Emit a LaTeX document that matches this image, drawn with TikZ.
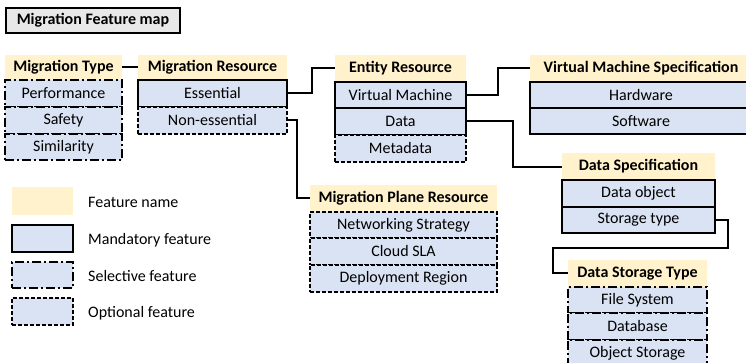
\documentclass[tikz,border=0pt]{standalone}
\usepackage{fontspec}
\setmainfont{Carlito}
\definecolor{hdrcol}{HTML}{FFF2CC}
\definecolor{rowcol}{HTML}{DAE3F3}
\definecolor{titlecol}{HTML}{E8E8E8}
\begin{document}
\begin{tikzpicture}[x=1pt,y=-1pt,
  base/.style={anchor=north west, inner sep=0pt, outer sep=0pt, font=\fontsize{16}{18}\selectfont},
  hdr/.style={base, fill=hdrcol, font=\fontsize{16}{18}\selectfont\bfseries},
  mand/.style={base, fill=rowcol, draw=black, line width=1.6pt},
  sel/.style={base, fill=rowcol, draw=black, line width=1.6pt, dash pattern=on 9pt off 3pt on 2pt off 3pt},
  opt/.style={base, fill=rowcol, draw=black, line width=1.6pt, dash pattern=on 4pt off 2pt},
  conn/.style={draw=black, line width=2pt},
  lbl/.style={anchor=west, inner sep=0pt, font=\fontsize{16}{18}\selectfont}]
\useasboundingbox (0,0) rectangle (746,363);
\begin{scope}
\clip (0,0) rectangle (746,363);
% title
\node[base, fill=titlecol, draw=black, line width=1.3pt, minimum width=174pt, minimum height=25pt, font=\fontsize{16}{18}\selectfont\bfseries] (title) at (6,8) {Migration Feature map};
% Migration Type
\node[hdr, minimum width=117pt, minimum height=25pt] (mt) at (5,55) {Migration Type};
\node[sel, minimum width=117pt, minimum height=27pt] (perf) at (5,80) {Performance};
\node[sel, minimum width=117pt, minimum height=27pt] (safe) at (5,107) {Safety};
\node[sel, minimum width=117pt, minimum height=26pt] (simi) at (5,134) {Similarity};
% Migration Resource
\node[hdr, minimum width=149pt, minimum height=25pt] (mr) at (138,55) {Migration Resource};
\node[mand, minimum width=149pt, minimum height=27pt] (ess) at (138,80) {Essential};
\node[opt, minimum width=149pt, minimum height=27pt] (ness) at (138,107) {Non-essential};
% Entity Resource
\node[hdr, minimum width=131pt, minimum height=27pt] (er) at (335,55) {Entity Resource};
\node[mand, minimum width=131pt, minimum height=26pt] (vm) at (335,82) {Virtual Machine};
\node[mand, minimum width=131pt, minimum height=27pt] (data) at (335,108) {Data};
\node[opt, minimum width=131pt, minimum height=27pt] (meta) at (335,135) {Metadata};
% VM Specification
\node[hdr, minimum width=222pt, minimum height=27pt] (vms) at (530,55) {Virtual Machine Specification};
\node[mand, minimum width=222pt, minimum height=26pt] (hw) at (530,82) {Hardware};
\node[mand, minimum width=222pt, minimum height=26pt] (sw) at (530,108) {Software};
% Data Specification
\node[hdr, minimum width=153pt, minimum height=27pt] (ds) at (562,153) {Data Specification};
\node[mand, minimum width=153pt, minimum height=27pt] (dobj) at (562,180) {Data object};
\node[mand, minimum width=153pt, minimum height=26pt] (stype) at (562,207) {Storage type};
% Data Storage Type
\node[hdr, minimum width=139pt, minimum height=27pt] (dst) at (568,260) {Data Storage Type};
\node[sel, minimum width=139pt, minimum height=26pt] (fs) at (568,287) {File System};
\node[sel, minimum width=139pt, minimum height=27pt] (db) at (568,313) {Database};
\node[sel, minimum width=139pt, minimum height=27pt] (os) at (568,340) {Object Storage};
% Migration Plane Resource
\node[hdr, minimum width=187pt, minimum height=27pt] (mpr) at (310,185) {Migration Plane Resource};
\node[opt, minimum width=187pt, minimum height=26pt] (net) at (310,212) {Networking Strategy};
\node[opt, minimum width=187pt, minimum height=27pt] (sla) at (310,238) {Cloud SLA};
\node[opt, minimum width=187pt, minimum height=27pt] (dep) at (310,265) {Deployment Region};
\end{scope}
% connectors
\draw[conn] (mt.east) -- (mr.west);
\draw[conn] (ess.east) -- (312,0 |- ess.east) coordinate (c1) -- (c1 |- er.west) -- (er.west);
\draw[conn] (vm.east) -- (498,0 |- vm.east) coordinate (c2) -- (c2 |- vms.west) -- (vms.west);
\draw[conn] (data.east) -- (513,0 |- data.east) coordinate (c3) -- (513,167) -- (ds.west |- 0,167);
\draw[conn] (ness.east) -- (297,0 |- ness.east) coordinate (c4) -- (c4 |- 0,198) -- (mpr.west |- 0,198);
\draw[conn] (stype.east) -- (728,0 |- stype.east) coordinate (c5) -- (728,248) -- (553,248) -- (553,273) -- (dst.west |- 0,273);
% legend
\node[base, fill=hdrcol, minimum width=61pt, minimum height=28pt] (lgf) at (12,187) {};
\node[mand, minimum width=61pt, minimum height=27pt] (lgm) at (12,225) {};
\node[sel, minimum width=61pt, minimum height=26pt] (lgs) at (12,262) {};
\node[opt, minimum width=61pt, minimum height=27pt] (lgo) at (12,298) {};
\node[lbl] (tf) at (88,202) {Feature name};
\node[lbl] (tm) at (88,240) {Mandatory feature};
\node[lbl] (ts) at (88,276) {Selective feature};
\node[lbl] (to) at (88,313) {Optional feature};
\end{tikzpicture}
\end{document}
